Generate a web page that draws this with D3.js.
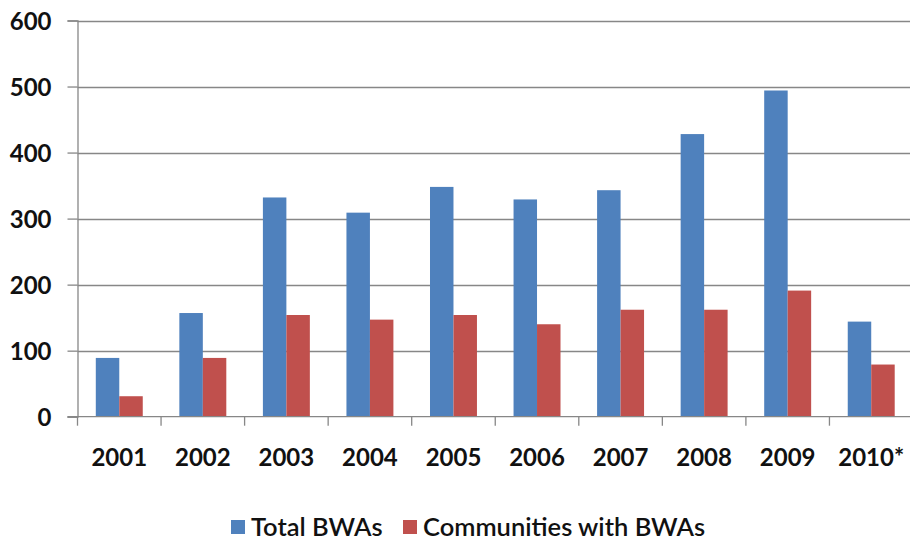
<!DOCTYPE html>
<html>
<head>
<meta charset="utf-8">
<script src="https://cdn.jsdelivr.net/npm/d3@7"></script>
<style>
  html, body { margin: 0; padding: 0; background: #fff; }
  svg { display: block; }
</style>
</head>
<body>
<svg id="chart" width="910" height="540"></svg>
<script>
// BWA counts per year, two series side by side
const years = ["2001", "2002", "2003", "2004", "2005", "2006", "2007", "2008", "2009", "2010*"];
const totalBWAs = [89, 157, 332, 309, 348, 329, 343, 428, 494, 144];
const communitiesWithBWAs = [31, 89, 154, 147, 154, 140, 162, 162, 191, 79];
const seriesNames = ["Total BWAs", "Communities with BWAs"];
const seriesColors = ["#4F81BD", "#C0504D"];
const yTicks = [0, 100, 200, 300, 400, 500, 600];

const rows = years.map((yr, i) => ({ year: yr, values: [totalBWAs[i], communitiesWithBWAs[i]] }));

const svg = d3.select("#chart");
const plotLeft = 77.5, plotRight = 913, plotTop = 20.5, plotBottom = 416.7;

const x0 = d3.scaleBand().domain(years).range([plotLeft, plotRight]).padding(0);
const bw = x0.bandwidth();
const x1 = d3.scaleBand().domain(d3.range(seriesNames.length))
  .range([bw * 0.219, bw * 0.781]).padding(0);
const y = d3.scaleLinear().domain([0, 600]).range([plotBottom, plotTop]);

const axisColor = "#878787";
const labelFont = "Lato, 'Open Sans', sans-serif";

// horizontal gridlines
svg.append("g").selectAll("line").data(yTicks.filter(t => t > 0)).join("line")
  .attr("x1", plotLeft).attr("x2", 910)
  .attr("y1", d => Math.round(y(d)) + 0.5).attr("y2", d => Math.round(y(d)) + 0.5)
  .attr("stroke", axisColor).attr("stroke-width", 1.3);

// bars
const groups = svg.append("g").selectAll("g").data(rows).join("g")
  .attr("transform", d => `translate(${x0(d.year)},0)`);
groups.selectAll("rect").data(d => d.values.map((v, i) => ({ v, i }))).join("rect")
  .attr("x", d => x1(d.i))
  .attr("width", x1.bandwidth())
  .attr("y", d => y(d.v))
  .attr("height", d => y(0) - y(d.v))
  .attr("fill", d => seriesColors[d.i]);

// y axis
const yAxis = svg.append("g").attr("transform", `translate(${plotLeft},0)`)
  .call(d3.axisLeft(y).tickValues(yTicks).tickSize(10).tickPadding(16).tickFormat(d3.format("d")));
yAxis.select(".domain").attr("stroke", axisColor).attr("stroke-width", 1.3);
yAxis.selectAll(".tick line").attr("stroke", axisColor).attr("stroke-width", 1.3);
yAxis.selectAll(".tick text")
  .attr("fill", "#111").attr("font-family", labelFont).attr("font-weight", "bold")
  .attr("font-size", 24).attr("dy", "0.36em");

// x axis with ticks at category boundaries
const xAxisG = svg.append("g").attr("transform", `translate(0,${plotBottom})`);
xAxisG.append("line").attr("x1", plotLeft - 10).attr("x2", 910).attr("y1", 0).attr("y2", 0)
  .attr("stroke", axisColor).attr("stroke-width", 1.3);
xAxisG.selectAll(".bound").data(years).join("line").attr("class", "bound")
  .attr("x1", d => x0(d)).attr("x2", d => x0(d))
  .attr("y1", 0).attr("y2", 9)
  .attr("stroke", axisColor).attr("stroke-width", 1.3);
xAxisG.selectAll("text").data(years).join("text")
  .attr("x", d => x0(d) + bw / 2)
  .attr("y", 49.5)
  .attr("text-anchor", "middle")
  .attr("fill", "#111").attr("font-family", labelFont).attr("font-weight", "bold")
  .attr("font-size", 24)
  .text(d => d);

// legend
const legendItems = [
  { name: seriesNames[0], color: seriesColors[0], x: 231 },
  { name: seriesNames[1], color: seriesColors[1], x: 403 }
];
const lg = svg.append("g").selectAll("g").data(legendItems).join("g")
  .attr("transform", d => `translate(${d.x},${527})`);
lg.append("rect").attr("x", 0).attr("y", -7).attr("width", 14).attr("height", 14)
  .attr("fill", d => d.color);
lg.append("text").attr("x", 20).attr("y", 0).attr("dy", "0.35em")
  .attr("fill", "#111").attr("font-family", labelFont).attr("font-weight", "600")
  .attr("font-size", 25.5)
  .text(d => d.name);
</script>
</body>
</html>
